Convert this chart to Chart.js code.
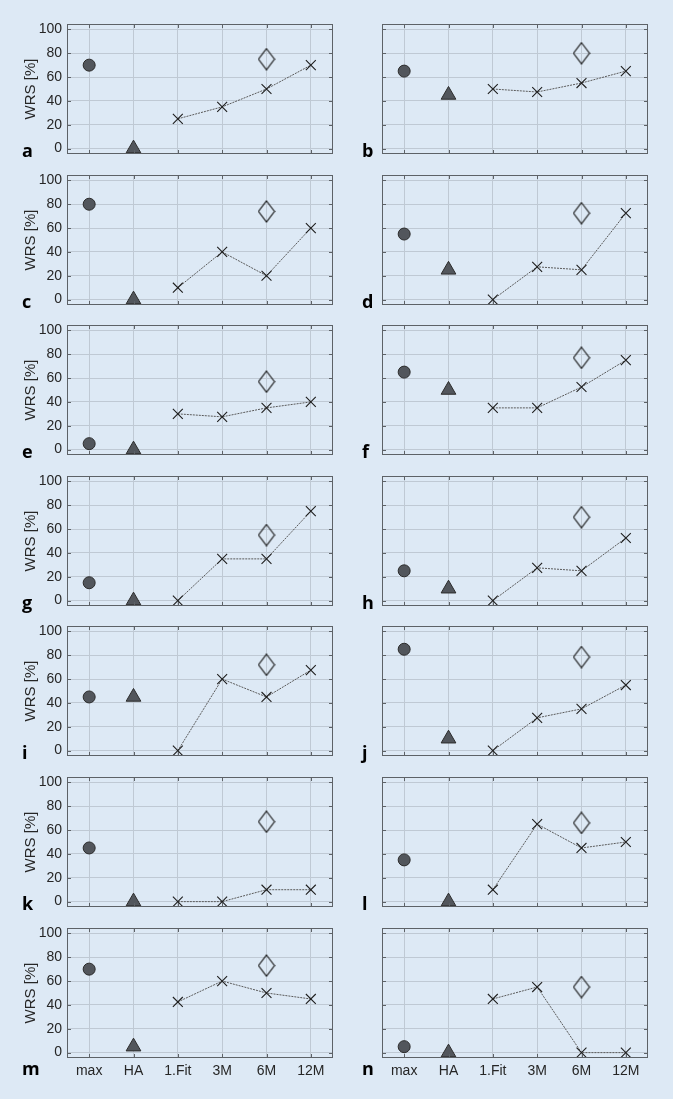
<!DOCTYPE html>
<html>
<head>
<meta charset="utf-8">
<title>WRS</title>
<script src="https://cdn.jsdelivr.net/npm/chart.js@4.4.1/dist/chart.umd.min.js"></script>
<style>
  html, body { margin: 0; padding: 0; background: #dde9f5; }
  body { width: 673px; height: 1099px; position: relative; overflow: hidden; }
  .panel { position: absolute; }
</style>
</head>
<body>
<div id="figure"></div>
<script>
// Daten ablesen aus der Abbildung
const categories = ['max', 'HA', '1.Fit', '3M', '6M', '12M'];
const yTicks = [0, 20, 40, 60, 80, 100];
const panelLetters = ['a', 'b', 'c', 'd', 'e', 'f', 'g', 'h', 'i', 'j', 'k', 'l', 'm', 'n'];
const maxWRS = [70, 65, 80, 55, 5, 65, 15, 25, 45, 85, 45, 35, 70, 5];
const haWRS = [0, 45, 0, 25, 0, 50, 0, 10, 45, 10, 0, 0, 5, 0];
// 1.Fit, 3M, 6M, 12M
const followUpWRS = [
  [25, 35, 50, 70],
  [50, 47.5, 55, 65],
  [10, 40, 20, 60],
  [0, 27.5, 25, 72.5],
  [30, 27.5, 35, 40],
  [35, 35, 52.5, 75],
  [0, 35, 35, 75],
  [0, 27.5, 25, 52.5],
  [0, 60, 45, 67.5],
  [0, 27.5, 35, 55],
  [0, 0, 10, 10],
  [10, 65, 45, 50],
  [42.5, 60, 50, 45],
  [45, 55, 0, 0]
];
const diamondWRS = [75, 80, 74, 72.5, 57, 77, 55, 70, 72, 78.5, 67, 66, 73, 55];

const textColor = '#262626';
const frameColor = '#5d6267';
const gridColor = '#bfc9d4';

// Raute als eigenes Punktsymbol (hoeher als breit)
const diamond = document.createElement('canvas');
diamond.width = 18;
diamond.height = 23;
(function() {
  const c = diamond.getContext('2d');
  c.strokeStyle = '#111';
  c.lineWidth = 1.1;
  c.beginPath();
  c.moveTo(9, 1);
  c.lineTo(17, 11.5);
  c.lineTo(9, 22);
  c.lineTo(1, 11.5);
  c.closePath();
  c.stroke();
})();

// Rahmen, Ticks nach innen und Buchstabe
const framePlugin = {
  id: 'frame',
  afterDraw(chart, args, opts) {
    const ctx = chart.ctx;
    const a = chart.chartArea;
    const xs = chart.scales.x;
    const ys = chart.scales.y;
    ctx.save();
    ctx.strokeStyle = frameColor;
    ctx.lineWidth = 1;
    ctx.strokeRect(Math.round(a.left) + 0.5, Math.round(a.top) + 0.5,
      Math.round(a.right - a.left) - 1, Math.round(a.bottom - a.top) - 1);
    ctx.beginPath();
    categories.forEach((c, i) => {
      const x = Math.round(xs.getPixelForTick(i)) + 0.5;
      ctx.moveTo(x, a.bottom); ctx.lineTo(x, a.bottom - 4);
      ctx.moveTo(x, a.top); ctx.lineTo(x, a.top + 4);
    });
    yTicks.forEach(v => {
      const y = Math.round(ys.getPixelForValue(v)) + 0.5;
      ctx.moveTo(a.left, y); ctx.lineTo(a.left + 4, y);
      ctx.moveTo(a.right, y); ctx.lineTo(a.right - 4, y);
    });
    ctx.stroke();
    ctx.fillStyle = '#000';
    ctx.font = 'bold 18px "Open Sans", sans-serif';
    ctx.textBaseline = 'alphabetic';
    ctx.fillText(opts.letter, 22, a.bottom + (opts.bottomRow ? 16.5 : 3));
    ctx.restore();
  }
};

const figure = document.getElementById('figure');

panelLetters.forEach((letter, p) => {
  const row = Math.floor(p / 2);
  const leftCol = p % 2 === 0;
  const bottomRow = row === 6;
  const top = 24 + row * 150.6;

  const div = document.createElement('div');
  div.className = 'panel';
  div.style.left = leftCol ? '0px' : '340px';
  div.style.width = leftCol ? '340px' : '333px';
  div.style.top = (top - 10) + 'px';
  div.style.height = (10 + 130 + (bottomRow ? 30 : 12)) + 'px';
  const canvas = document.createElement('canvas');
  div.appendChild(canvas);
  figure.appendChild(div);

  const only = (idx, v) => categories.map((c, i) => i === idx ? v : null);

  new Chart(canvas, {
    type: 'line',
    data: {
      labels: categories,
      datasets: [
        {
          data: only(0, maxWRS[p]),
          showLine: false,
          pointStyle: 'circle',
          pointRadius: 6,
          pointHoverRadius: 6,
          backgroundColor: '#52565c',
          borderColor: '#2b2b2b',
          borderWidth: 1,
          clip: false
        },
        {
          data: only(1, haWRS[p]),
          showLine: false,
          pointStyle: 'triangle',
          pointRadius: 8.5,
          pointHoverRadius: 8.5,
          backgroundColor: '#52565c',
          borderColor: '#2b2b2b',
          borderWidth: 1,
          clip: false
        },
        {
          data: [null, null].concat(followUpWRS[p]),
          borderColor: '#5a5a5a',
          borderWidth: 1,
          borderDash: [2, 1],
          pointStyle: 'crossRot',
          pointRadius: 7,
          pointHoverRadius: 7,
          pointBorderColor: '#1e1e1e',
          pointBorderWidth: 1.1,
          fill: false,
          tension: 0,
          clip: false
        },
        {
          data: only(4, diamondWRS[p]),
          showLine: false,
          pointStyle: diamond,
          pointRadius: 10,
          clip: false
        }
      ]
    },
    options: {
      responsive: true,
      maintainAspectRatio: false,
      animation: false,
      events: [],
      layout: {
        autoPadding: false,
        padding: { top: 10, left: 0, right: leftCol ? 7 : 25, bottom: bottomRow ? 0 : 12 }
      },
      plugins: {
        legend: { display: false },
        tooltip: { enabled: false },
        frame: { letter: letter, bottomRow: bottomRow }
      },
      scales: {
        x: {
          type: 'category',
          offset: true,
          grid: { color: gridColor, drawTicks: false, offset: false },
          border: { display: false },
          ticks: {
            display: bottomRow,
            color: textColor,
            padding: 5,
            maxRotation: 0,
            autoSkip: false,
            font: { family: '"Liberation Sans", Arial, sans-serif', size: 14 }
          },
          afterFit(scale) {
            scale.height = bottomRow ? 30 : 0;
            scale.paddingLeft = 0;
            scale.paddingRight = 0;
          }
        },
        y: {
          min: -4.5,
          max: 104.5,
          grid: { color: gridColor, drawTicks: false },
          border: { display: false },
          ticks: {
            display: leftCol,
            color: textColor,
            padding: 5,
            font: { family: '"Liberation Sans", Arial, sans-serif', size: 14 }
          },
          afterBuildTicks(scale) { scale.ticks = yTicks.map(v => ({ value: v })); },
          title: {
            display: leftCol,
            text: 'WRS [%]',
            color: textColor,
            padding: { top: 22, bottom: 0 },
            font: { family: '"Liberation Sans", Arial, sans-serif', size: 15 }
          },
          afterFit(scale) {
            scale.width = leftCol ? 67 : 42;
            scale.paddingTop = 0;
            scale.paddingBottom = 0;
          }
        }
      }
    },
    plugins: [framePlugin]
  });
});
</script>
</body>
</html>
